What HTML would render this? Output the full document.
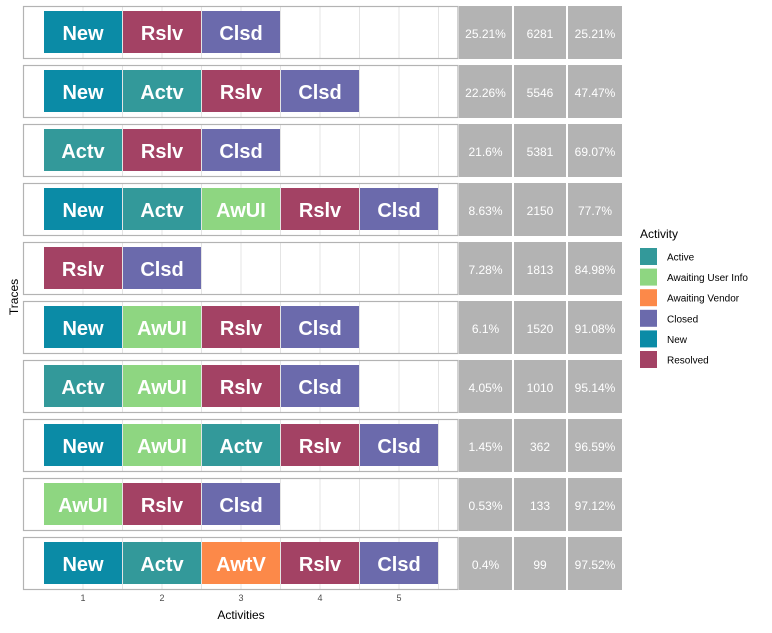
<!DOCTYPE html>
<html><head><meta charset="utf-8"><style>
body{margin:0;background:#fff;font-family:"Liberation Sans",Arial,sans-serif;}
svg text{font-family:"Liberation Sans",Arial,sans-serif;}
</style></head><body>
<svg id="c" width="772" height="628" xmlns="http://www.w3.org/2000/svg"></svg>
<script>
const traces=[["New","Rslv","Clsd"],["New","Actv","Rslv","Clsd"],["Actv","Rslv","Clsd"],["New","Actv","AwUI","Rslv","Clsd"],["Rslv","Clsd"],["New","AwUI","Rslv","Clsd"],["Actv","AwUI","Rslv","Clsd"],["New","AwUI","Actv","Rslv","Clsd"],["AwUI","Rslv","Clsd"],["New","Actv","AwtV","Rslv","Clsd"]];
const relFreq=["25.21%","22.26%","21.6%","8.63%","7.28%","6.1%","4.05%","1.45%","0.53%","0.4%"];
const absFreq=["6281","5546","5381","2150","1813","1520","1010","362","133","99"];
const cumFreq=["25.21%","47.47%","69.07%","77.7%","84.98%","91.08%","95.14%","96.59%","97.12%","97.52%"];
const xTicks=[1,2,3,4,5];
const legendLabels=["Active","Awaiting User Info","Awaiting Vendor","Closed","New","Resolved"];
const colors={New:"#0b8ba6",Actv:"#33999a",Rslv:"#a34264",Clsd:"#6b6aac",AwUI:"#8ed681",AwtV:"#fc8949"};
const legendColors=["#33999a","#8ed681","#fc8949","#6b6aac","#0b8ba6","#a34264"];
const svg=document.getElementById('c');const NS="http://www.w3.org/2000/svg";
function mk(t,a,p){const e=document.createElementNS(NS,t);for(const k in a)e.setAttribute(k,a[k]);(p||svg).appendChild(e);return e;}
const xs=p=>83+(p-1)*79;const ys=i=>6+i*59;const ph=52;
traces.forEach((tr,i)=>{
 const y=ys(i);
 const g=mk('g',{});
 
 
 [1,2,3,4,5].forEach(p=>{mk('line',{x1:xs(p),x2:xs(p),y1:y,y2:y+ph,stroke:'#e4e4e4','stroke-width':1},g);mk('line',{x1:xs(p)+39.5,x2:xs(p)+39.5,y1:y,y2:y+ph,stroke:'#e4e4e4','stroke-width':1},g);});
 mk('rect',{x:23.5,y:y+0.5,width:434.5,height:ph,fill:'none',stroke:'#b3b3b3','stroke-width':1.2},g);
 tr.forEach((a,j)=>{
  const r=mk('rect',{x:xs(j+1)-39,y:y+5,width:78,height:42,fill:colors[a]},g);
  
  
  const t=mk('text',{x:xs(j+1),y:y+34,'text-anchor':'middle','font-size':20,'font-weight':'bold',fill:'#fff'},g);t.textContent=a;
 });
 [[459,53,relFreq[i]],[514,52,absFreq[i]],[568,54,cumFreq[i]]].forEach(([x,w,v],k)=>{
  const r=mk('rect',{x:x,y:y,width:w,height:ph+1,fill:'#b3b3b3'},g);
  
  
  const t=mk('text',{x:x+w/2,y:y+32,'text-anchor':'middle','font-size':12,fill:'#fff'},g);t.textContent=v;
 });
});
xTicks.forEach(v=>{const t=mk('text',{x:xs(v),y:601,'text-anchor':'middle','font-size':9,fill:'#4d4d4d'});t.textContent=v;
 });
let t=mk('text',{x:241,y:619,'text-anchor':'middle','font-size':12,fill:'#000'});t.textContent='Activities';

t=mk('text',{x:0,y:0,'text-anchor':'middle','font-size':12,fill:'#000',transform:'translate(18,297) rotate(-90)'});t.textContent='Traces';

t=mk('text',{x:640,y:238,'font-size':12,fill:'#000'});t.textContent='Activity';

legendLabels.forEach((l,i)=>{const y=248+i*20.6;
 const r=mk('rect',{x:640,y:y,width:17,height:17,fill:legendColors[i]});
 
 const tt=mk('text',{x:667,y:y+12.5,'font-size':10,fill:'#000'});tt.textContent=l;
 });
</script>
</body></html>
